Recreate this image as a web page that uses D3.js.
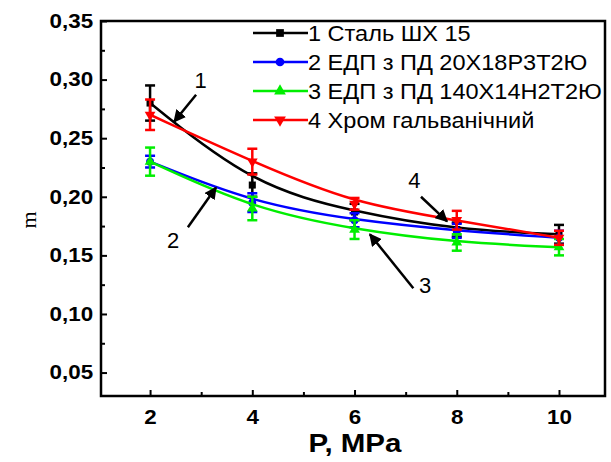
<!DOCTYPE html>
<html>
<head>
<meta charset="utf-8">
<script src="https://cdn.jsdelivr.net/npm/d3@7"></script>
<style>
  body { margin: 0; background: #fff; }
  svg { display: block; font-family: "Liberation Sans", Arial, sans-serif; }
</style>
</head>
<body>
<svg id="chart" width="611" height="462"></svg>
<script>
// pressure, MPa
const pressure = [2, 4, 6, 8, 10];

const seriesNames = [
  "1 Сталь ШХ 15",
  "2 ЕДП з ПД 20Х18Р3Т2Ю",
  "3 ЕДП з ПД 140Х14Н2Т2Ю",
  "4 Хром гальванічний"
];
const seriesColors = ["#000000", "#0000ff", "#00ee00", "#ff0000"];
const seriesMarkers = ["square", "circle", "triangle", "triangleDown"];

// friction coefficient m
const steel = [0.280, 0.210, 0.187, 0.172, 0.168];
const edpA = [0.230, 0.195, 0.180, 0.171, 0.165];
const edpB = [0.230, 0.190, 0.172, 0.161, 0.157];
const chrome = [0.270, 0.230, 0.194, 0.180, 0.165];

// error bar half widths
const steelErr = [0.015, 0.010, 0.007, 0.006, 0.008];
const edpAErr = [0.005, 0.008, 0.006, 0.006, 0.006];
const edpBErr = [0.012, 0.010, 0.008, 0.007, 0.007];
const chromeErr = [0.013, 0.011, 0.005, 0.008, 0.006];

const xTicks = [2, 4, 6, 8, 10];
const yTicks = [0.05, 0.10, 0.15, 0.20, 0.25, 0.30, 0.35];

// numbered call-outs with arrows (data units)
const callouts = [
  { label: "1", lx: 2.99, ly: 0.300, x1: 2.90, y1: 0.287, x2: 2.47, y2: 0.264 },
  { label: "2", lx: 2.45, ly: 0.163, x1: 2.74, y1: 0.174, x2: 3.29, y2: 0.208 },
  { label: "3", lx: 7.38, ly: 0.125, x1: 7.15, y1: 0.122, x2: 6.30, y2: 0.168 },
  { label: "4", lx: 7.17, ly: 0.214, x1: 7.30, y1: 0.200, x2: 7.81, y2: 0.179 }
];

const values = [steel, edpA, edpB, chrome];
const errors = [steelErr, edpAErr, edpBErr, chromeErr];

const svg = d3.select("#chart");
const x = d3.scaleLinear().domain([1.04, 10.9]).range([101, 605]);
const y = d3.scaleLinear().domain([0.03, 0.35]).range([396, 21]);

const comma = d3.formatLocale({ decimal: ",", thousands: " ", grouping: [3], currency: ["", ""] }).format(".2f");

// axes with inward ticks
svg.append("g")
  .attr("transform", `translate(0,${y.range()[0]})`)
  .call(d3.axisBottom(x).tickValues(xTicks).tickSize(-6).tickPadding(14).tickFormat(d3.format("d")));
svg.append("g")
  .attr("transform", `translate(0,${y.range()[0]})`)
  .call(d3.axisBottom(x).tickValues([3, 5, 7, 9]).tickSize(-4).tickFormat(""));

svg.append("g")
  .attr("transform", `translate(${x.range()[0]},0)`)
  .call(d3.axisLeft(y).tickValues(yTicks).tickSize(-6).tickPadding(7).tickFormat(comma));
svg.append("g")
  .attr("transform", `translate(${x.range()[0]},0)`)
  .call(d3.axisLeft(y).tickValues([0.075, 0.125, 0.175, 0.225, 0.275, 0.325]).tickSize(-4).tickFormat(""));

svg.selectAll(".domain").remove();
svg.selectAll(".tick line").attr("stroke", "#000").attr("stroke-width", 2);
// the original lettering is a little wider than Liberation Sans
svg.selectAll(".tick text")
  .attr("fill", "#000")
  .attr("transform", "scale(1.12,1)")
  .style("font-weight", "bold")
  .style("font-size", "20px");

// frame
svg.append("rect")
  .attr("x", x.range()[0])
  .attr("y", y.range()[1])
  .attr("width", x.range()[1] - x.range()[0])
  .attr("height", y.range()[0] - y.range()[1])
  .attr("fill", "none")
  .attr("stroke", "#000")
  .attr("stroke-width", 2.5);

// axis titles
svg.append("text")
  .attr("transform", `translate(${(x.range()[0] + x.range()[1]) / 2 + 2},452) scale(1.18,1)`)
  .attr("text-anchor", "middle")
  .style("font-weight", "bold")
  .style("font-size", "25px")
  .text("P, MPa");

svg.append("text")
  .attr("transform", "translate(36,220) rotate(-90)")
  .attr("text-anchor", "middle")
  .style("font-family", "'Liberation Serif', 'Times New Roman', serif")
  .style("font-size", "22px")
  .text("m");

function markerPath(type, size) {
  const sym = {
    square: d3.symbolSquare,
    circle: d3.symbolCircle,
    triangle: d3.symbolTriangle,
    triangleDown: d3.symbolTriangle
  }[type];
  return d3.symbol().type(sym).size(size)();
}

const line = d3.line()
  .x((d) => x(d[0]))
  .y((d) => y(d[1]))
  .curve(d3.curveBasis);

values.forEach((vals, si) => {
  const g = svg.append("g");
  const color = seriesColors[si];
  const pts = pressure.map((p, i) => [p, vals[i], errors[si][i]]);

  g.append("path")
    .attr("d", line(pts))
    .attr("fill", "none")
    .attr("stroke", color)
    .attr("stroke-width", 2.5);

  // error bars
  const eb = g.selectAll("g.err").data(pts).join("g").attr("class", "err");
  eb.append("line")
    .attr("x1", (d) => x(d[0])).attr("x2", (d) => x(d[0]))
    .attr("y1", (d) => y(d[1] - d[2])).attr("y2", (d) => y(d[1] + d[2]))
    .attr("stroke", color).attr("stroke-width", 2.5);
  [-1, 1].forEach((s) => {
    eb.append("line")
      .attr("x1", (d) => x(d[0]) - 5).attr("x2", (d) => x(d[0]) + 5)
      .attr("y1", (d) => y(d[1] + s * d[2])).attr("y2", (d) => y(d[1] + s * d[2]))
      .attr("stroke", color).attr("stroke-width", 2.5);
  });

  // markers
  g.selectAll("path.mk").data(pts).join("path")
    .attr("class", "mk")
    .attr("d", markerPath(seriesMarkers[si], 50))
    .attr("transform", (d) => `translate(${x(d[0])},${y(d[1])})${seriesMarkers[si] === "triangleDown" ? " rotate(180)" : ""}`)
    .attr("fill", color);
});

// legend
const legend = svg.append("g");
seriesNames.forEach((name, i) => {
  const ly = 33 + i * 29;
  const color = seriesColors[i];
  legend.append("line")
    .attr("x1", 253).attr("x2", 308)
    .attr("y1", ly).attr("y2", ly)
    .attr("stroke", color).attr("stroke-width", 2.5);
  legend.append("path")
    .attr("d", markerPath(seriesMarkers[i], 60))
    .attr("transform", `translate(280,${ly})${seriesMarkers[i] === "triangleDown" ? " rotate(180)" : ""}`)
    .attr("fill", color);
  legend.append("text")
    .attr("transform", `translate(308,${ly + 8}) scale(1.07,1)`)
    .style("font-size", "22px")
    .text(name);
});

// call-outs
svg.append("defs").append("marker")
  .attr("id", "arrow")
  .attr("viewBox", "0 0 10 10")
  .attr("refX", 9).attr("refY", 5)
  .attr("markerWidth", 5).attr("markerHeight", 5)
  .attr("markerUnits", "strokeWidth")
  .attr("orient", "auto")
  .append("path")
  .attr("d", "M0,0L10,5L0,10z")
  .attr("fill", "#000");

callouts.forEach((c) => {
  svg.append("line")
    .attr("x1", x(c.x1)).attr("y1", y(c.y1))
    .attr("x2", x(c.x2)).attr("y2", y(c.y2))
    .attr("stroke", "#000")
    .attr("stroke-width", 2.5)
    .attr("marker-end", "url(#arrow)");
  svg.append("text")
    .attr("x", x(c.lx))
    .attr("y", y(c.ly) + 8)
    .attr("text-anchor", "middle")
    .style("font-size", "22px")
    .text(c.label);
});
</script>
</body>
</html>
